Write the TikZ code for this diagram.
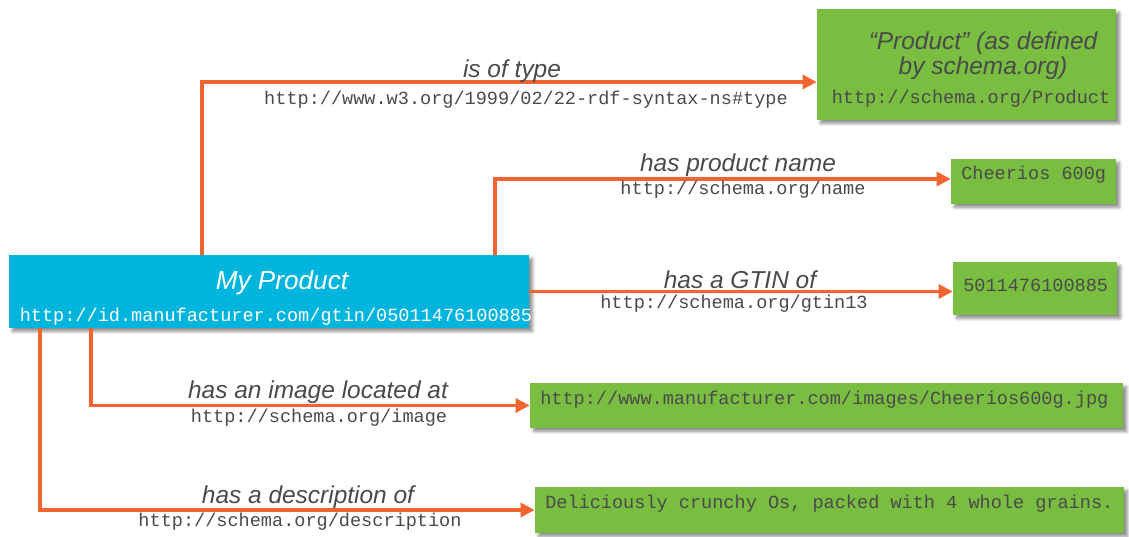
\documentclass[tikz,border=0pt]{standalone}
\usepackage{fontspec}
\setmainfont{Liberation Sans}
\newfontfamily\urifont{Liberation Mono}
\usetikzlibrary{arrows.meta, shadows.blur}
\definecolor{rdforange}{HTML}{F26531}
\definecolor{rdfblue}{HTML}{00B5DD}
\definecolor{rdfgreen}{HTML}{79BE41}
\definecolor{rdftext}{HTML}{4A4A4A}

\begin{document}
\begin{tikzpicture}[x=0.025cm, y=-0.025cm,
  box/.style={fill=#1, inner sep=0pt, blur shadow={shadow xshift=2.5pt, shadow yshift=-2.5pt, shadow blur steps=6, shadow opacity=45}},
  rel/.style={draw=rdforange, line width=2.2pt, -{Triangle[length=10pt, width=10pt]}},
  pred/.style={font=\fontsize{17.4}{17.7}\selectfont\itshape, text=rdftext, inner sep=0pt, align=center},
  uri/.style={font=\urifont\fontsize{13.2}{15}\selectfont, text=rdftext, inner sep=0pt}]
\useasboundingbox (0,0) rectangle (1129,537);

% subject
\node[box=rdfblue, minimum width=13cm, minimum height=1.825cm] (prod) at (269,291.5) {};
\node[pred, text=white, font=\fontsize{18.6}{20}\selectfont\itshape] (prodname) at (282,283) {My Product};
\node[uri, text=white] (produri) at (276,317) {http://id.manufacturer.com/gtin/05011476100885};

% objects
\node[box=rdfgreen, minimum width=7.475cm, minimum height=2.775cm] (type) at (966.5,64.5) {};
\node[pred] (typename) at (983,55.5) {“Product” (as defined\\by schema.org)};
\node[uri] (typeuri) at (971,99) {http://schema.org/Product};
\node[box=rdfgreen, minimum width=4.125cm, minimum height=1.125cm] (name) at (1033.5,181.5) {};
\node[uri, anchor=west] (nameval) at (961,175) {Cheerios 600g};
\node[box=rdfgreen, minimum width=4.1cm, minimum height=1.325cm] (gtin) at (1035,288.5) {};
\node[uri, anchor=west] (gtinval) at (963,285) {5011476100885};
\node[box=rdfgreen, minimum width=14.825cm, minimum height=1.125cm] (image) at (826.5,405.5) {};
\node[uri, anchor=west] (imageval) at (540,400) {http://www.manufacturer.com/images/Cheerios600g.jpg};
\node[box=rdfgreen, minimum width=14.725cm, minimum height=1.15cm] (desc) at (829.5,510) {};
\node[uri, anchor=west] (descval) at (545,504) {Deliciously crunchy Os, packed with 4 whole grains.};

% predicates
\coordinate (typebend) at (202,82);
\coordinate (namebend) at (495,179);
\coordinate (imagebend) at (91,405);
\coordinate (descbend) at (40,510);
\draw[rel] (prod.north -| typebend) -- (typebend) -- (typebend -| type.west);
\draw[rel] (prod.north -| namebend) -- (namebend) -- (namebend -| name.west);
\draw[rel] (prod.east) -- (prod.east -| gtin.west);
\draw[rel] (prod.south -| imagebend) |- (image.west);
\draw[rel] (prod.south -| descbend) |- (desc.west);

\node[pred] (typelbl) at (512,71) {is of type};
\node[uri] (typepred) at (526,100) {http://www.w3.org/1999/02/22-rdf-syntax-ns\#type};
\node[pred] (namelbl) at (738,165) {has product name};
\node[uri] (namepred) at (743,190) {http://schema.org/name};
\node[pred] (gtinlbl) at (740,280) {has a GTIN of};
\node[uri] (gtinpred) at (734,304) {http://schema.org/gtin13};
\node[pred] (imagelbl) at (318,392) {has an image located at};
\node[uri] (imagepred) at (319,418) {http://schema.org/image};
\node[pred] (desclbl) at (308,497) {has a description of};
\node[uri] (descpred) at (300,522) {http://schema.org/description};
\end{tikzpicture}
\end{document}
